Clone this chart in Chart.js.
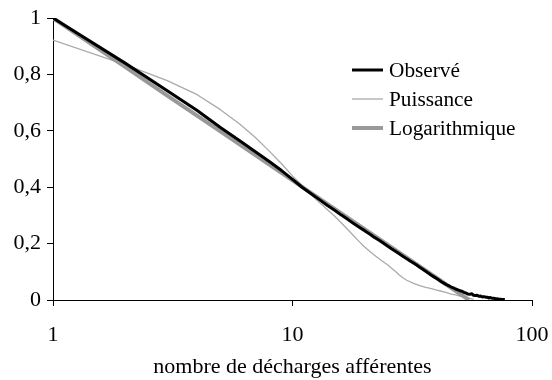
<!DOCTYPE html>
<html>
<head>
<meta charset="utf-8">
<script src="https://cdn.jsdelivr.net/npm/chart.js@4"></script>
<style>
  html, body { margin: 0; padding: 0; background: #fff; }
  #wrap { width: 552px; height: 380px; position: relative; }
</style>
</head>
<body>
<div id="wrap"><canvas id="c" width="552" height="380"></canvas></div>
<script>
// Nombre de décharges afférentes (abscisse, échelle log)
const nObs = [1,2,3,4,5,6,7,8,9,10,11,12,13,14,15,16,17,18,19,20,
  21,22,23,24,25,26,27,28,29,30,31,32,33,34,35,36,37,38,39,40,
  41,42,43,44,45,46,47,48,49,50,51,52,53,54,55,56,57,58,59,60,
  61,62,63,64,65,66,67,68,69,70,71,72,73,74,75,76,77];
// Fréquence cumulée observée
const yObs = [1.0,0.84,0.742,0.672,0.612,0.566,0.526,0.491,0.459,0.428,0.399,0.376,0.355,0.335,0.318,0.301,0.286,0.271,0.258,0.246,
  0.234,0.222,0.212,0.201,0.191,0.181,0.172,0.163,0.154,0.146,0.138,0.131,0.124,0.116,0.109,0.102,0.095,0.088,0.082,0.076,
  0.070,0.064,0.059,0.054,0.050,0.046,0.043,0.039,0.036,0.033,0.031,0.027,0.025,0.021,0.020,0.022,0.017,0.016,0.017,0.013,
  0.014,0.011,0.012,0.010,0.010,0.007,0.009,0.006,0.006,0.005,0.004,0.004,0.003,0.003,0.002,0.002,0.001];

// Ajustement puissance
const nPui = [1,2,3,4,5,6,7,8,9,10,11,12,13,14,15,16,17,18,19,20,
  21,22,23,24,25,26,27,28,29,30,32,34,36,38,40,42,44,46,48,50,52,54,56,57];
const yPui = [0.922,0.835,0.778,0.728,0.675,0.625,0.576,0.528,0.483,0.44,0.405,0.372,0.345,0.32,0.297,0.273,0.25,0.228,0.207,0.188,
  0.173,0.159,0.146,0.135,0.124,0.112,0.1,0.088,0.078,0.07,0.059,0.051,0.045,0.04,0.035,0.031,0.026,0.021,0.018,0.014,0.01,0.007,0.004,0.002];

// Ajustement logarithmique
const nLog = [1,2,3,5,10,20,30,40,50,54.6];
const yLog = [1.0,0.827,0.725,0.598,0.424,0.251,0.150,0.078,0.022,0.0];

const xTicks = [1, 10, 100];
const yTicks = [0, 0.2, 0.4, 0.6, 0.8, 1];

const serif = '"Liberation Serif", "Times New Roman", Times, serif';
const pts = (xs, ys) => xs.map((x, i) => ({ x: x, y: ys[i] }));

// Légende dessinée dans la zone de tracé, à droite
const innerLegend = {
  id: 'innerLegend',
  afterDatasetsDraw(chart) {
    const ctx = chart.ctx;
    const area = chart.chartArea;
    const x0 = area.right - 180;
    const y0 = area.top + 52;
    const gap = 29;
    ctx.save();
    ctx.font = '21.3px ' + serif;
    ctx.textBaseline = 'middle';
    ctx.textAlign = 'left';
    ctx.fillStyle = '#000';
    chart.data.datasets.forEach((ds, i) => {
      const y = y0 + i * gap;
      ctx.strokeStyle = ds.borderColor;
      ctx.lineWidth = ds.borderWidth;
      ctx.beginPath();
      ctx.moveTo(x0, y);
      ctx.lineTo(x0 + 31, y);
      ctx.stroke();
      ctx.fillText(ds.label, x0 + 37, y + 1);
    });
    ctx.restore();
  }
};

new Chart(document.getElementById('c'), {
  type: 'line',
  data: {
    datasets: [
      { label: 'Observé', data: pts(nObs, yObs), borderColor: '#000000', borderWidth: 3, order: 0 },
      { label: 'Puissance', data: pts(nPui, yPui), borderColor: '#aaaaaa', borderWidth: 1.3, order: 2 },
      { label: 'Logarithmique', data: pts(nLog, yLog), borderColor: '#999999', borderWidth: 4, order: 1 }
    ]
  },
  options: {
    responsive: false,
    animation: false,
    layout: { padding: 0 },
    elements: { point: { radius: 0 }, line: { tension: 0, borderJoinStyle: 'round', borderCapStyle: 'butt' } },
    plugins: { legend: { display: false }, tooltip: { enabled: false } },
    scales: {
      x: {
        type: 'logarithmic',
        min: 1, max: 100,
        afterBuildTicks: (axis) => { axis.ticks = xTicks.map(v => ({ value: v })); },
        afterFit: (axis) => { axis.height = 80; axis.paddingLeft = 0; axis.paddingRight = 20; },
        ticks: {
          color: '#000', font: { family: serif, size: 22 }, padding: 16,
          maxRotation: 0, autoSkip: false,
          callback: (v) => String(v)
        },
        grid: { display: true, drawOnChartArea: false, drawTicks: true, tickLength: 6, color: '#000', lineWidth: 1 },
        border: { display: true, color: '#000', width: 1 },
        title: { display: true, text: 'nombre de décharges afférentes', color: '#000', font: { family: serif, size: 22 }, padding: { top: 0, bottom: 0 } }
      },
      y: {
        type: 'linear',
        min: 0, max: 1,
        afterBuildTicks: (axis) => { axis.ticks = yTicks.map(v => ({ value: v })); },
        afterFit: (axis) => { axis.width = 53; axis.paddingTop = 18; axis.paddingBottom = 0; },
        ticks: {
          color: '#000', font: { family: serif, size: 22 }, padding: 6,
          callback: (v) => String(Math.round(v * 10) / 10).replace('.', ',')
        },
        grid: { display: true, drawOnChartArea: false, drawTicks: true, tickLength: 6, color: '#000', lineWidth: 1 },
        border: { display: true, color: '#000', width: 1 }
      }
    }
  },
  plugins: [innerLegend]
});
</script>
</body>
</html>
